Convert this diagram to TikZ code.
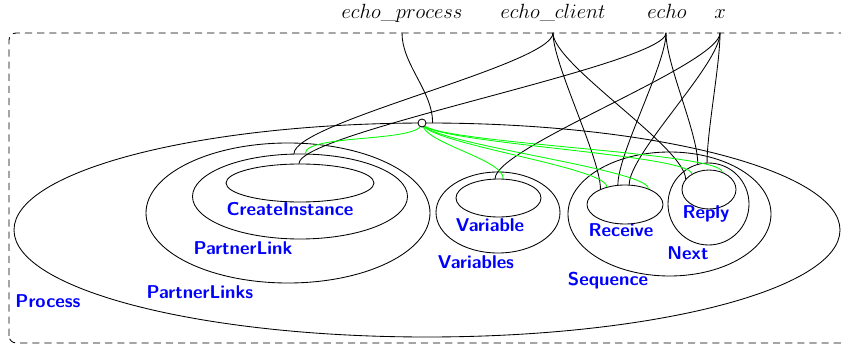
\documentclass[tikz,border=0pt]{standalone}
\usetikzlibrary{shapes.geometric}
\begin{document}
\begin{tikzpicture}[x=0.7pt,y=0.7pt,line join=round,line cap=round,line width=0.6pt,
	place/.style={draw,ellipse,inner sep=0pt},
	lbl/.style={text=blue,font=\fontsize{13}{15}\selectfont\sffamily\bfseries},
	nm/.style={anchor=base,font=\fontsize{14.4}{17}\selectfont},
	lnk/.style={out=-90,in=90,distance=22pt},
	glnk/.style={out=-90,in=90,distance=14pt}]
	\clip (0,0) rectangle (841,348);
	\draw[dash pattern=on 5pt off 3.5pt,line cap=butt,rounded corners=5] (9,5) rectangle (870,315);
	% outer names
	\coordinate (ep) at (402,315);
	\coordinate (ec) at (553,315);
	\coordinate (eo) at (666,315);
	\coordinate (xx) at (720,315);
	\node[nm] (nep) at (402,329) {$echo\_process$};
	\node[nm] (nec) at (553,329) {$echo\_client$};
	\node[nm] (neo) at (667,329) {$echo$};
	\node[nm] (nxx) at (720,329) {$x$};
	% places
	\node[place,minimum width=578.2pt,minimum height=149.8pt] (proc) at (427,118) {};
	\node[place,minimum width=198.8pt,minimum height=98pt] (pls) at (288,135) {};
	\node[place,minimum width=150.5pt,minimum height=59.5pt] (pl) at (300,151.5) {};
	\node[place,minimum width=103.6pt,minimum height=26.6pt] (ci) at (300,165) {};
	\node[place,minimum width=86.8pt,minimum height=56.7pt] (vars) at (498,135.5) {};
	\node[place,minimum width=59.5pt,minimum height=26.6pt] (var) at (498.5,150) {};
	\node[place,minimum width=142.1pt,minimum height=86.8pt] (seq) at (669.5,134) {};
	\node[place,minimum width=53.2pt,minimum height=27.3pt] (rec) at (625,143.5) {};
	\node[place,minimum width=56.7pt,minimum height=57.4pt] (next) at (708.5,144) {};
	\node[place,minimum width=37.8pt,minimum height=27.3pt] (reply) at (709,158.5) {};
	% controls
	\node[lbl] (lproc) at (48,47) {Process};
	\node[lbl] (lpls) at (200,56) {PartnerLinks};
	\node[lbl] (lpl) at (243,100) {PartnerLink};
	\node[lbl] (lci) at (290,138.5) {CreateInstance};
	\node[lbl] (lvars) at (476,85.5) {Variables};
	\node[lbl] (lvar) at (490,123) {Variable};
	\node[lbl] (lseq) at (608,67) {Sequence};
	\node[lbl] (lrec) at (621,117.5) {Receive};
	\node[lbl] (lnext) at (688,94.5) {Next};
	\node[lbl] (lreply) at (706,134.5) {Reply};
	% links
	\draw (ep) to[lnk] (proc.87);
	\draw (ec) to[lnk] (pl.98);
	\draw (ec) to[lnk] (rec.148);
	\draw (ec) to[lnk] (reply.156);
	\draw (eo) to[lnk] (ci.93);
	\draw (eo) to[lnk] (rec.110);
	\draw (eo) to[lnk] (next.105);
	\draw (xx) to[lnk] (var.100);
	\draw (xx) to[lnk] (rec.78);
	\draw (xx) to[lnk] (next.92);
	% closed edge
	\coordinate (e1) at (422,225);
	\draw[green] (e1) to[glnk] (pl.83);
	\draw[green] (e1) to[glnk] (var.76);
	\draw[green] (e1) to[glnk] (rec.136);
	\draw[green] (e1) to[glnk] (rec.34);
	\draw[green] (e1) to[glnk] (reply.138);
	\draw[green] (e1) to[glnk] (reply.53);
	\node[draw,circle,fill=white,inner sep=0pt,minimum size=5.6pt] (hub) at (e1) {};
\end{tikzpicture}
\end{document}
